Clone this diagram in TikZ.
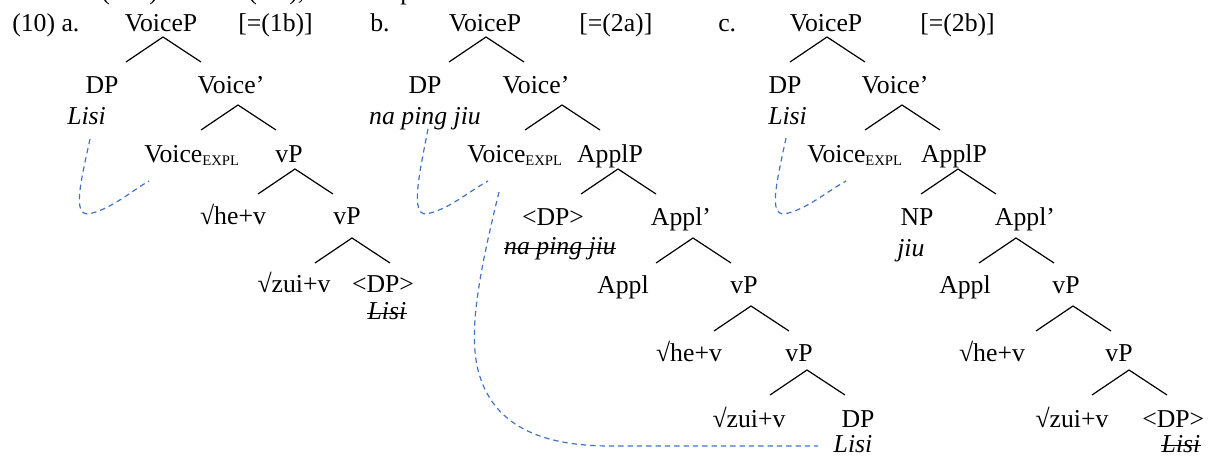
\documentclass[tikz,border=0pt]{standalone}
\usepackage{fontspec}
\setmainfont{Liberation Serif}
\usetikzlibrary{calc}
\definecolor{linkblue}{RGB}{68,114,196}
\tikzset{
  lbl/.style={inner sep=0pt, anchor=base, font=\fontsize{19.3}{23}\selectfont},
  lbll/.style={lbl, anchor=base west},
  edge/.style={line width=0.9pt, black},
  link/.style={linkblue, line width=0.9pt, dash pattern=on 4pt off 3pt},
  strike/.style={line width=1.2pt, black}
}
% Voice with the small-capital EXPL subscript
\newcommand\voiceexpl{Voice\raisebox{-2pt}{\fontsize{11}{12}\selectfont EXPL}}
% branching caret below a node: #1 node anchor, #2 apex offset
\newcommand\branch[2]{\draw[edge] (#1) ++(#2) ++(-37,25) -- ++(37,-25) -- ++(38,25);}
% strike a node's text through
\newcommand\strikeout[1]{\draw[strike] ([yshift=4.8pt]#1.base west) -- ([yshift=4.8pt]#1.base east);}
\begin{document}
\begin{tikzpicture}[x=0.75pt, y=-0.75pt]
\clip (0,0) rectangle (1210,459);
\fill[white] (0,0) rectangle (1210,459);

% descenders of the line above
\node[lbll] (f1) at (101,0) {(};
\node[lbll] (f2) at (149,0) {)};
\node[lbll] (f3) at (248,0) {(};
\node[lbll] (f4) at (289,0) {),};
\node[lbll] (f5) at (400,0) {p};

% ---------------- tree a ----------------
\node[lbll] (numA) at (12,32) {(10) a.};
\node[lbl]  (vpA)  at (161,32) {VoiceP};
\node[lbll] (refA) at (238,32) {[=(1b)]};
\node[lbl]  (dpA)  at (102,94) {DP};
\node[lbll] (lisiA) at (67,125) {\itshape Lisi};
\node[lbl]  (vbarA) at (231,94) {Voice’};
\node[lbll] (vexA) at (144,163) {\voiceexpl};
\node[lbl]  (vPA1) at (289,163) {vP};
\node[lbl]  (heA)  at (233,225) {√he+v};
\node[lbl]  (vPA2) at (347,225) {vP};
\node[lbl]  (zuiA) at (294,293) {√zui+v};
\node[lbl]  (tA)   at (383,293) {<DP>};
\node[lbl]  (tlA)  at (387,320) {\itshape Lisi};
\strikeout{tlA}
\branch{vpA.base}{2,5}
\branch{vbarA.base}{7,11}
\branch{vPA1.base}{6,6}
\branch{vPA2.base}{5,13}

% ---------------- tree b ----------------
\node[lbll] (numB) at (370,32) {b.};
\node[lbl]  (vpB)  at (485,32) {VoiceP};
\node[lbll] (refB) at (579,32) {[=(2a)]};
\node[lbl]  (dpB)  at (425,94) {DP};
\node[lbl]  (npjB) at (425,125) {\itshape na ping jiu};
\node[lbl]  (vbarB) at (536,94) {Voice’};
\node[lbll] (vexB) at (467,163) {\voiceexpl};
\node[lbl]  (applPB) at (610,163) {ApplP};
\node[lbl]  (tB)   at (553,226) {<DP>};
\node[lbl]  (tnB)  at (560,255) {\itshape na ping jiu};
\strikeout{tnB}
\node[lbl]  (applbarB) at (681,226) {Appl’};
\node[lbl]  (applB) at (623,294) {Appl};
\node[lbl]  (vPB1) at (744,294) {vP};
\node[lbl]  (heB)  at (689,362) {√he+v};
\node[lbl]  (vPB2) at (799,362) {vP};
\node[lbl]  (zuiB) at (749,427) {√zui+v};
\node[lbl]  (dpB2) at (858,427) {DP};
\node[lbl]  (lisiB) at (853,452) {\itshape Lisi};
\branch{vpB.base}{1,5}
\branch{vbarB.base}{26,11}
\branch{applPB.base}{8,6}
\branch{applbarB.base}{12,12}
\branch{vPB1.base}{7,12}
\branch{vPB2.base}{8,8}

% ---------------- tree c ----------------
\node[lbll] (numC) at (718,32) {c.};
\node[lbl]  (vpC)  at (826,32) {VoiceP};
\node[lbll] (refC) at (920,32) {[=(2b)]};
\node[lbl]  (dpC)  at (785,94) {DP};
\node[lbll] (lisiC) at (768,125) {\itshape Lisi};
\node[lbl]  (vbarC) at (895,94) {Voice’};
\node[lbll] (vexC) at (807,163) {\voiceexpl};
\node[lbl]  (applPC) at (954,163) {ApplP};
\node[lbl]  (npC)  at (917,226) {NP};
\node[lbll] (jiuC) at (897,257) {\itshape jiu};
\node[lbl]  (applbarC) at (1025,226) {Appl’};
\node[lbl]  (applC) at (965,294) {Appl};
\node[lbl]  (vPC1) at (1066,294) {vP};
\node[lbl]  (heC)  at (992,362) {√he+v};
\node[lbl]  (vPC2) at (1119,362) {vP};
\node[lbl]  (zuiC) at (1072,427) {√zui+v};
\node[lbll] (tC)   at (1142,427) {<DP>};
\node[lbl]  (tlC)  at (1181,452) {\itshape Lisi};
\strikeout{tlC}
\branch{vpC.base}{1,5}
\branch{vbarC.base}{7,11}
\branch{applPC.base}{4,6}
\branch{applbarC.base}{-9,12}
\branch{vPC1.base}{7,12}
\branch{vPC2.base}{10,8}

% ---------------- binding links ----------------
\coordinate (aS) at (90,139);  \coordinate (aE) at (149,181);
\coordinate (bS) at (428,129); \coordinate (bE) at (488,181);
\coordinate (cS) at (786,138); \coordinate (cE) at (846,181);
\coordinate (b2S) at (499,192); \coordinate (b2E) at (818,446);
\draw[link] (aS) .. controls (80,185) and (73,214) .. (88,214)
                 .. controls (110,210) and (130,192) .. (aE);
\draw[link] (bS) .. controls (418,180) and (411,214) .. (426,214)
                 .. controls (448,210) and (468,192) .. (bE);
\draw[link] (cS) .. controls (776,185) and (769,214) .. (784,214)
                 .. controls (806,210) and (826,192) .. (cE);
\draw[link] (b2S) .. controls (480,270) and (468,330) .. (478,370)
                  .. controls (492,425) and (540,446) .. (610,446) -- (b2E);
\end{tikzpicture}
\end{document}
